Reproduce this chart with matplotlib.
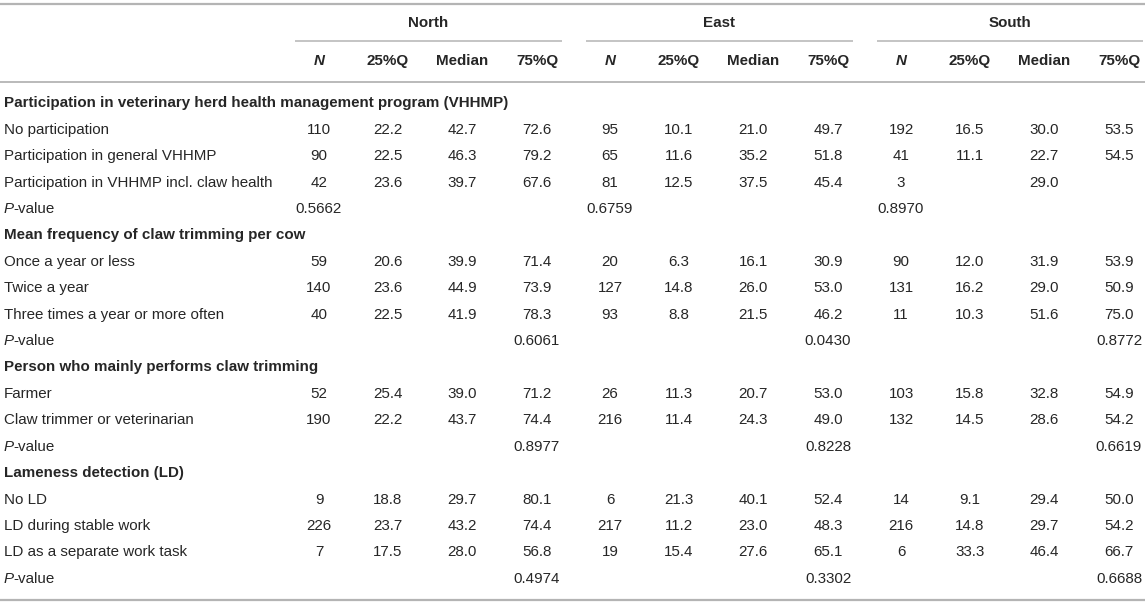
import matplotlib

matplotlib.use("Agg")
import matplotlib.pyplot as plt

plt.rcParams["font.family"] = ["Liberation Sans", "DejaVu Sans"]

# ---- table content -------------------------------------------------------
regions = ["North", "East", "South"]
stat_headers = ["N", "25%Q", "Median", "75%Q"]

group_titles = [
    "Participation in veterinary herd health management program (VHHMP)",
    "Mean frequency of claw trimming per cow",
    "Person who mainly performs claw trimming",
    "Lameness detection (LD)",
]
group_rows = [
    ["No participation", "Participation in general VHHMP",
     "Participation in VHHMP incl. claw health"],
    ["Once a year or less", "Twice a year", "Three times a year or more often"],
    ["Farmer", "Claw trimmer or veterinarian"],
    ["No LD", "LD during stable work", "LD as a separate work task"],
]
# column (0 = N, 3 = 75%Q) in which the P-value of each group is printed
p_col = [0, 3, 3, 3]

north_n = [110, 90, 42, 59, 140, 40, 52, 190, 9, 226, 7]
north_q25 = [22.2, 22.5, 23.6, 20.6, 23.6, 22.5, 25.4, 22.2, 18.8, 23.7, 17.5]
north_med = [42.7, 46.3, 39.7, 39.9, 44.9, 41.9, 39.0, 43.7, 29.7, 43.2, 28.0]
north_q75 = [72.6, 79.2, 67.6, 71.4, 73.9, 78.3, 71.2, 74.4, 80.1, 74.4, 56.8]
north_p = ["0.5662", "0.6061", "0.8977", "0.4974"]

east_n = [95, 65, 81, 20, 127, 93, 26, 216, 6, 217, 19]
east_q25 = [10.1, 11.6, 12.5, 6.3, 14.8, 8.8, 11.3, 11.4, 21.3, 11.2, 15.4]
east_med = [21.0, 35.2, 37.5, 16.1, 26.0, 21.5, 20.7, 24.3, 40.1, 23.0, 27.6]
east_q75 = [49.7, 51.8, 45.4, 30.9, 53.0, 46.2, 53.0, 49.0, 52.4, 48.3, 65.1]
east_p = ["0.6759", "0.0430", "0.8228", "0.3302"]

south_n = [192, 41, 3, 90, 131, 11, 103, 132, 14, 216, 6]
south_q25 = [16.5, 11.1, None, 12.0, 16.2, 10.3, 15.8, 14.5, 9.1, 14.8, 33.3]
south_med = [30.0, 22.7, 29.0, 31.9, 29.0, 51.6, 32.8, 28.6, 29.4, 29.7, 46.4]
south_q75 = [53.5, 54.5, None, 53.9, 50.9, 75.0, 54.9, 54.2, 50.0, 54.2, 66.7]
south_p = ["0.8970", "0.8772", "0.6619", "0.6688"]

region_data = [
    (north_n, north_q25, north_med, north_q75, north_p),
    (east_n, east_q25, east_med, east_q75, east_p),
    (south_n, south_q25, south_med, south_q75, south_p),
]

# ---- layout (pixel coordinates) -------------------------------------------
W, H = 1145, 605
TEXT = "#262626"
RULE = "#b4b4b4"
FS = 10.9

col_offsets = [0, 69, 143, 218]
region_x0 = [319, 610, 901]
row_y0, row_step = 103.5, 26.4

fig = plt.figure(figsize=(W / 100, H / 100), dpi=100)
ax = fig.add_axes([0, 0, 1, 1])
ax.set_xlim(0, W)
ax.set_ylim(H, 0)
ax.axis("off")

# horizontal rules
ax.plot([0, W], [4, 4], color=RULE, lw=1.6, solid_capstyle="butt")
ax.plot([0, W], [82, 82], color=RULE, lw=1.3, solid_capstyle="butt")
ax.plot([0, W], [600, 600], color=RULE, lw=1.6, solid_capstyle="butt")

for r, name in enumerate(regions):
    x0 = region_x0[r]
    left, right = x0 - 24, min(x0 + col_offsets[-1] + 25, W - 2)
    ax.plot([left, right], [41, 41], color=RULE, lw=1.1, solid_capstyle="butt")
    ax.text((left + right) / 2, 23, name, ha="center", va="center",
            fontsize=FS, fontweight="bold", color=TEXT)
    for c, head in enumerate(stat_headers):
        ax.text(x0 + col_offsets[c], 61, head, ha="center", va="center",
                fontsize=FS, fontweight="bold", color=TEXT,
                style="italic" if head == "N" else "normal")

# body rows
line = 0
item = 0
for g, title in enumerate(group_titles):
    y = row_y0 + line * row_step
    ax.text(4, y, title, ha="left", va="center", fontsize=FS,
            fontweight="bold", color=TEXT)
    line += 1
    for label in group_rows[g]:
        y = row_y0 + line * row_step
        ax.text(4, y, label, ha="left", va="center", fontsize=FS, color=TEXT)
        for r, (n, q25, med, q75, _) in enumerate(region_data):
            vals = [n[item], q25[item], med[item], q75[item]]
            for c, v in enumerate(vals):
                if v is None:
                    continue
                s = f"{v}" if c == 0 else f"{v:.1f}"
                ax.text(region_x0[r] + col_offsets[c], y, s, ha="center",
                        va="center", fontsize=FS, color=TEXT)
        item += 1
        line += 1
    # P-value row: italic P followed by regular "-value"
    y = row_y0 + line * row_step
    ax.text(4, y, "P", ha="left", va="center", fontsize=FS, color=TEXT,
            style="italic")
    ax.text(13.5, y, "-value", ha="left", va="center", fontsize=FS, color=TEXT)
    for r, data in enumerate(region_data):
        ax.text(region_x0[r] + col_offsets[p_col[g]], y, data[4][g],
                ha="center", va="center", fontsize=FS, color=TEXT)
    line += 1

fig.savefig("out.png", dpi=100)
